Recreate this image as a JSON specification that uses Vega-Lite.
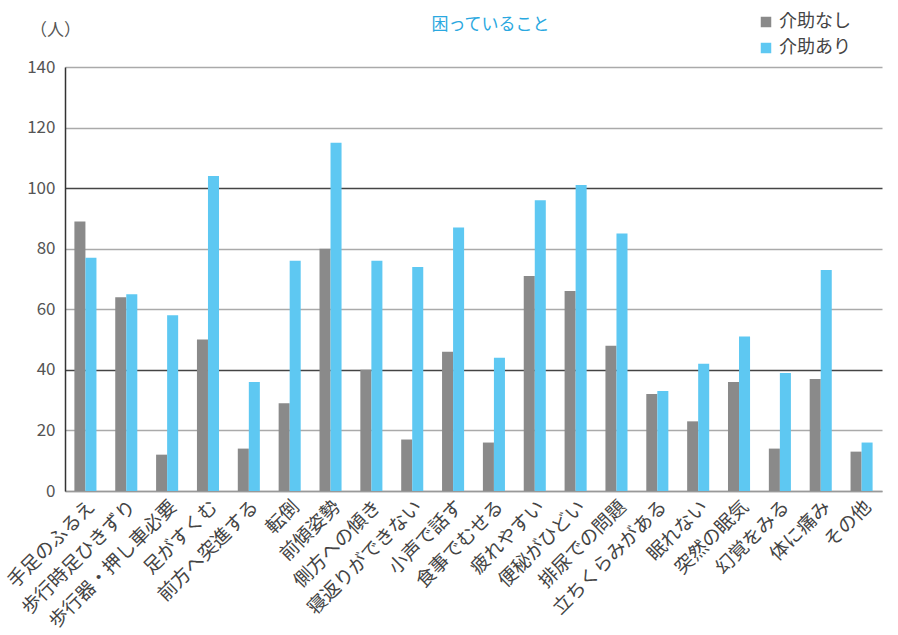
{
  "$schema": "https://vega.github.io/schema/vega-lite/v6.json",
  "width": 817,
  "height": 424,
  "autosize": "none",
  "padding": {"left": 65, "top": 67, "right": 16, "bottom": 144},
  "background": "white",
  "title": {"text": "困っていること", "color": "#2aa8e0", "fontSize": 17, "fontWeight": "normal", "font": "Noto Sans CJK JP", "anchor": "middle", "dx": 17, "offset": -21},
  "data": {"values": [
    {"item": "手足のふるえ", "group": "介助なし", "count": 89},
    {"item": "手足のふるえ", "group": "介助あり", "count": 77},
    {"item": "歩行時足ひきずり", "group": "介助なし", "count": 64},
    {"item": "歩行時足ひきずり", "group": "介助あり", "count": 65},
    {"item": "歩行器・押し車必要", "group": "介助なし", "count": 12},
    {"item": "歩行器・押し車必要", "group": "介助あり", "count": 58},
    {"item": "足がすくむ", "group": "介助なし", "count": 50},
    {"item": "足がすくむ", "group": "介助あり", "count": 104},
    {"item": "前方へ突進する", "group": "介助なし", "count": 14},
    {"item": "前方へ突進する", "group": "介助あり", "count": 36},
    {"item": "転倒", "group": "介助なし", "count": 29},
    {"item": "転倒", "group": "介助あり", "count": 76},
    {"item": "前傾姿勢", "group": "介助なし", "count": 80},
    {"item": "前傾姿勢", "group": "介助あり", "count": 115},
    {"item": "側方への傾き", "group": "介助なし", "count": 40},
    {"item": "側方への傾き", "group": "介助あり", "count": 76},
    {"item": "寝返りができない", "group": "介助なし", "count": 17},
    {"item": "寝返りができない", "group": "介助あり", "count": 74},
    {"item": "小声で話す", "group": "介助なし", "count": 46},
    {"item": "小声で話す", "group": "介助あり", "count": 87},
    {"item": "食事でむせる", "group": "介助なし", "count": 16},
    {"item": "食事でむせる", "group": "介助あり", "count": 44},
    {"item": "疲れやすい", "group": "介助なし", "count": 71},
    {"item": "疲れやすい", "group": "介助あり", "count": 96},
    {"item": "便秘がひどい", "group": "介助なし", "count": 66},
    {"item": "便秘がひどい", "group": "介助あり", "count": 101},
    {"item": "排尿での問題", "group": "介助なし", "count": 48},
    {"item": "排尿での問題", "group": "介助あり", "count": 85},
    {"item": "立ちくらみがある", "group": "介助なし", "count": 32},
    {"item": "立ちくらみがある", "group": "介助あり", "count": 33},
    {"item": "眠れない", "group": "介助なし", "count": 23},
    {"item": "眠れない", "group": "介助あり", "count": 42},
    {"item": "突然の眠気", "group": "介助なし", "count": 36},
    {"item": "突然の眠気", "group": "介助あり", "count": 51},
    {"item": "幻覚をみる", "group": "介助なし", "count": 14},
    {"item": "幻覚をみる", "group": "介助あり", "count": 39},
    {"item": "体に痛み", "group": "介助なし", "count": 37},
    {"item": "体に痛み", "group": "介助あり", "count": 73},
    {"item": "その他", "group": "介助なし", "count": 13},
    {"item": "その他", "group": "介助あり", "count": 16}
  ]},
  "mark": {"type": "bar"},
  "encoding": {
    "x": {"field": "item", "type": "nominal", "sort": null,
      "scale": {"paddingInner": 0.46, "paddingOuter": 0.23},
      "axis": {"title": null, "labelAngle": -45, "labelFontSize": 19, "labelColor": "#444", "labelFont": "Noto Sans CJK JP", "ticks": false, "labelPadding": 6, "domainColor": "#999", "domainWidth": 1.5, "grid": false}},
    "xOffset": {"field": "group", "type": "nominal", "scale": {"domain": ["介助なし", "介助あり"], "paddingInner": 0, "paddingOuter": 0}},
    "y": {"field": "count", "type": "quantitative",
      "scale": {"domain": [0, 140]},
      "axis": {"values": [0, 20, 40, 60, 80, 100, 120, 140], "title": "（人）", "titleAngle": 0, "titleX": -10, "titleY": -37, "titleAlign": "center", "titleBaseline": "middle", "titleFontSize": 17, "titleFontWeight": "normal", "titleColor": "#555", "titleFont": "Noto Sans CJK JP",
        "labelFontSize": 17, "labelColor": "#555", "labelFont": "Noto Sans CJK JP", "ticks": false, "labelPadding": 10,
        "domainColor": "#333", "domainWidth": 1.5,
        "gridColor": {"condition": {"test": "datum.value == 40 || datum.value == 100", "value": "#444"}, "value": "#aaa"}, "gridWidth": 1.5}},
    "color": {"field": "group", "type": "nominal",
      "scale": {"domain": ["介助なし", "介助あり"], "range": ["#8a8a8a", "#5ec8f2"]},
      "legend": {"title": null, "orient": "none", "legendX": 692, "legendY": -54, "symbolType": "square", "symbolSize": 110, "symbolStrokeWidth": 0, "labelFontSize": 18, "labelColor": "#444", "labelFont": "Noto Sans CJK JP", "rowPadding": 8, "labelOffset": 4}}
  },
  "config": {"view": {"stroke": null}, "font": "Noto Sans CJK JP"}
}
